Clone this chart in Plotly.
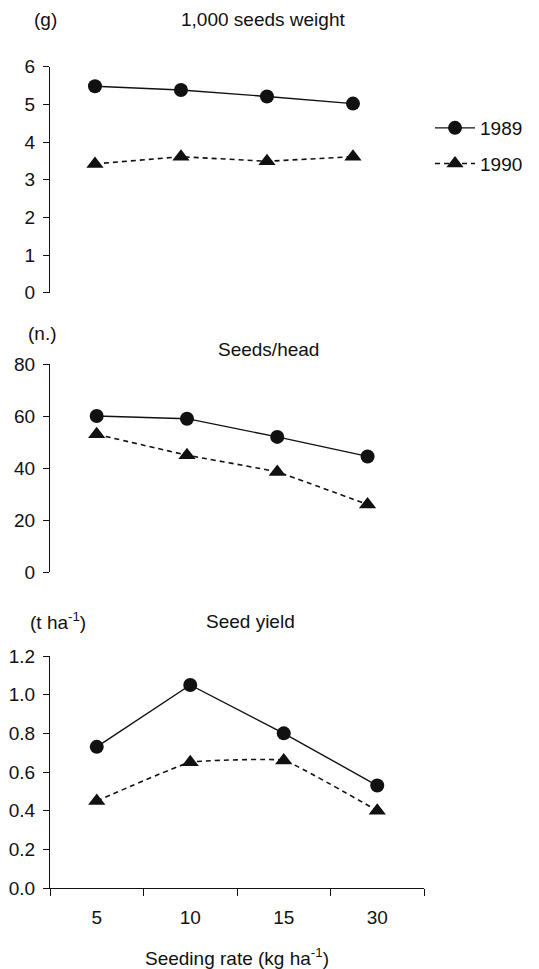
import plotly.graph_objects as go

# ---- data ----
seeding_rate = ["5", "10", "15", "30"]
weight_1989 = [5.48, 5.38, 5.21, 5.02]
weight_1990 = [3.42, 3.61, 3.49, 3.61]
seeds_1989 = [60, 59, 52, 44.5]
seeds_1990 = [53, 45, 38.5, 26]
yield_1989 = [0.73, 1.05, 0.80, 0.53]
yield_1990 = [0.45, 0.65, 0.66, 0.40]

# page body has an 8px margin: figure is drawn at (8, 8)
OFF = 8
W, H = 539 - 2 * OFF, 969 - OFF
FONT = "Liberation Sans, Arial, sans-serif"
INK = "#111111"
FS = 19


def fy(px):
    return 1 - (px - OFF) / H


def fx(px):
    return (px - OFF) / W


fig = go.Figure()

panels = [
    ("x", "y", weight_1989, weight_1990, "linear", True),
    ("x2", "y2", seeds_1989, seeds_1990, "spline", False),
    ("x3", "y3", yield_1989, yield_1990, "spline", False),
]
for xa, ya, s89, s90, shape90, leg in panels:
    fig.add_trace(go.Scatter(
        x=seeding_rate, y=s89, xaxis=xa, yaxis=ya, name="1989",
        legendgroup="1989", showlegend=leg, mode="lines+markers",
        line=dict(color=INK, width=1.4),
        marker=dict(symbol="circle", size=14, color=INK)))
    fig.add_trace(go.Scatter(
        x=seeding_rate, y=s90, xaxis=xa, yaxis=ya, name="1990",
        legendgroup="1990", showlegend=leg, mode="lines+markers",
        line=dict(color=INK, width=1.6, dash="5px,4px", shape=shape90, smoothing=0.3),
        marker=dict(symbol="triangle-up", size=15, color=INK)))

xdom = [fx(50), fx(424)]
yax_common = dict(showline=True, linecolor=INK, linewidth=1.3, ticks="outside",
                  ticklen=6, tickcolor=INK, tickwidth=1.3, showgrid=False,
                  zeroline=False, tickfont=dict(family=FONT, size=FS, color=INK),
                  ticklabelstandoff=4, automargin=False)

fig.update_layout(
    width=W, height=H, margin=dict(l=0, r=0, t=0, b=0, autoexpand=False),
    paper_bgcolor="white", plot_bgcolor="white",
    font=dict(family=FONT, color=INK, size=FS),
    xaxis=dict(domain=xdom, type="category", range=[-0.523, 3.826], visible=False,
               anchor="y", automargin=False),
    xaxis2=dict(domain=xdom, type="category", range=[-0.517, 3.625], visible=False,
                anchor="y2", automargin=False),
    xaxis3=dict(domain=xdom, type="category", range=[-0.5, 3.5], anchor="y3",
                showline=True, linecolor=INK, linewidth=1.3, ticks="outside",
                tickson="boundaries", ticklen=7, tickcolor=INK, tickwidth=1.3,
                showgrid=False, automargin=False, ticklabelstandoff=12,
                tickfont=dict(family=FONT, size=FS, color=INK),
                title=dict(text="Seeding rate (kg ha<sup>-1</sup>)", standoff=31,
                           font=dict(family=FONT, size=FS, color=INK))),
    yaxis=dict(domain=[fy(292.7), fy(66.7)], range=[0, 6], dtick=1,
               anchor="x", **yax_common),
    yaxis2=dict(domain=[fy(572.3), fy(364)], range=[0, 80], dtick=20,
                anchor="x2", **yax_common),
    yaxis3=dict(domain=[fy(888), fy(656)], range=[0, 1.2], dtick=0.2, tickformat=".1f",
                anchor="x3", **yax_common),
    legend=dict(x=fx(430), y=fy(109), xanchor="left", yanchor="top",
                font=dict(family=FONT, size=FS, color=INK), bgcolor="rgba(0,0,0,0)",
                tracegroupgap=8, itemwidth=40),
    showlegend=True,
)

annots = [
    ("(g)", 45, 20),
    ("1,000 seeds weight", 263, 20),
    ("(n.)", 42, 333),
    ("Seeds/head", 268, 349),
    ("(t ha<sup>-1</sup>)", 58, 621),
    ("Seed yield", 250, 621),
]
for text, x, y in annots:
    fig.add_annotation(text=text, x=fx(x), y=fy(y), xref="paper", yref="paper",
                       xanchor="center", yanchor="middle", showarrow=False,
                       font=dict(family=FONT, size=FS, color=INK))

fig.write_html("out.html")
